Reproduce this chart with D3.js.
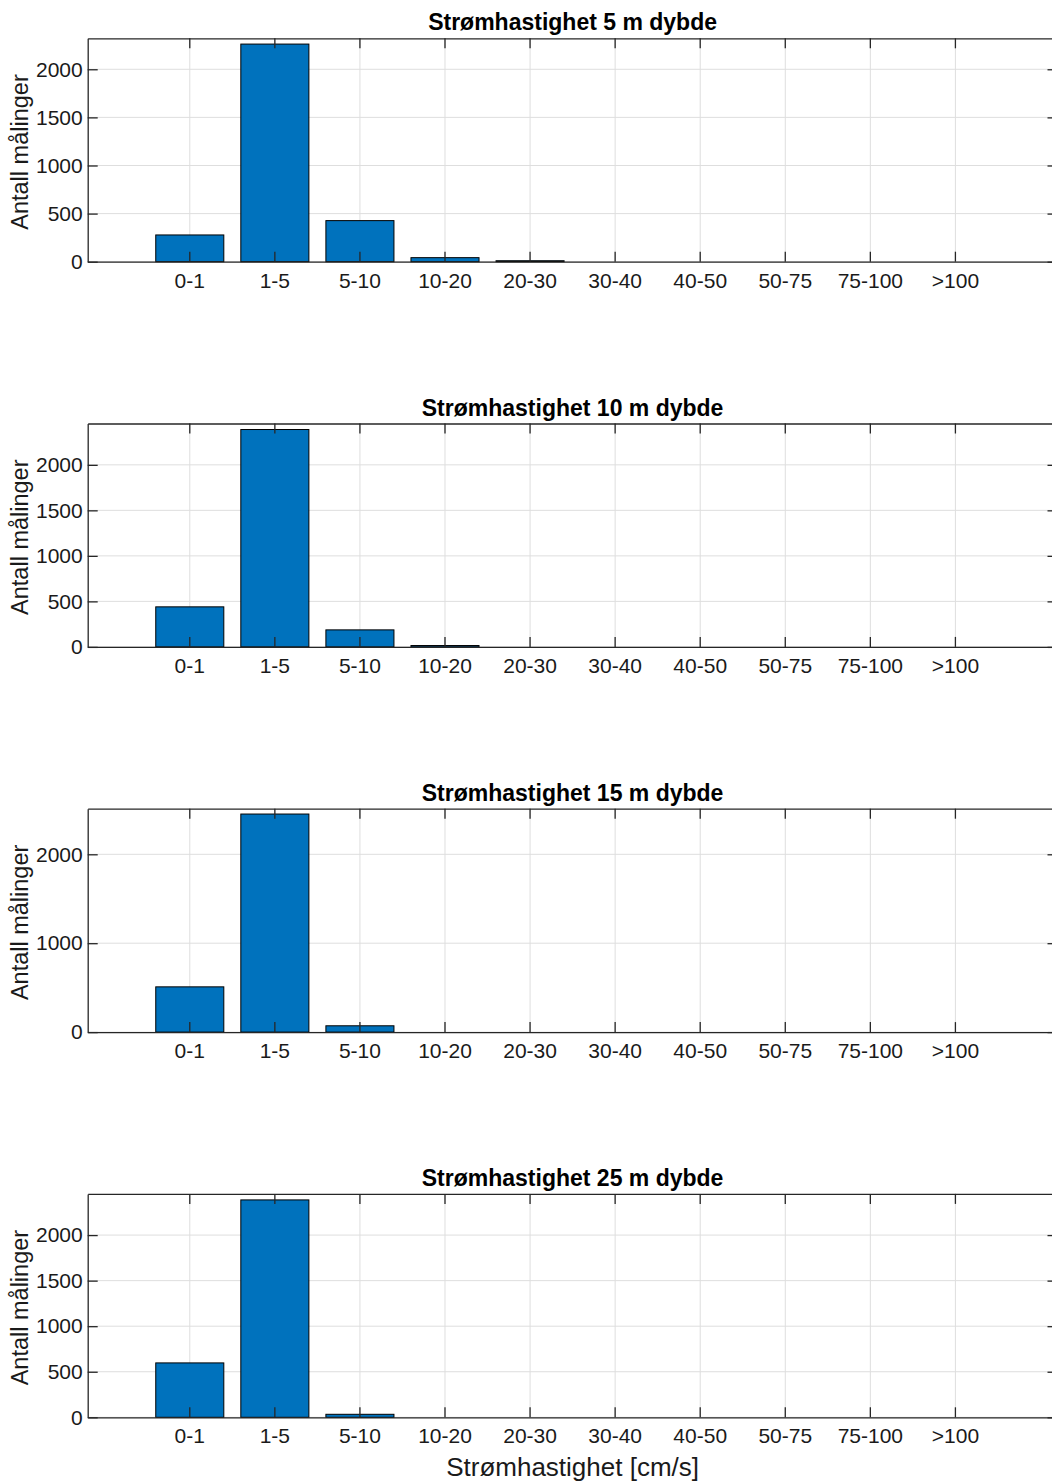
<!DOCTYPE html>
<html>
<head>
<meta charset="utf-8">
<script src="https://cdn.jsdelivr.net/npm/d3@7"></script>
<style>
  html, body { margin: 0; padding: 0; background: #fff; }
  svg { display: block; font-family: "Liberation Sans", Arial, sans-serif; }
</style>
</head>
<body>
<svg id="chart" width="1052" height="1484"></svg>
<script>
// ---- data ----
const categories = ["0-1", "1-5", "5-10", "10-20", "20-30", "30-40", "40-50", "50-75", "75-100", ">100"];
const titles = [
  "Strømhastighet 5 m dybde",
  "Strømhastighet 10 m dybde",
  "Strømhastighet 15 m dybde",
  "Strømhastighet 25 m dybde"
];
const depth5  = [278, 2262, 427, 42, 10, 0, 0, 0, 0, 0];
const depth10 = [440, 2388, 187, 15, 0, 0, 0, 0, 0, 0];
const depth15 = [509, 2453, 71, 0, 0, 0, 0, 0, 0, 0];
const depth25 = [597, 2386, 33, 0, 0, 0, 0, 0, 0, 0];
const seriesList = [depth5, depth10, depth15, depth25];
const yMaxList = [2322, 2454, 2513, 2452];
const yTickList = [
  [0, 500, 1000, 1500, 2000],
  [0, 500, 1000, 1500, 2000],
  [0, 1000, 2000],
  [0, 500, 1000, 1500, 2000]
];
const yLabel = "Antall målinger";
const xLabel = "Strømhastighet [cm/s]";

// ---- layout ----
const svg = d3.select("#chart");
const left = 87.7, right = 1057.5;
const panelTop0 = 38.3, panelStep = 385.2, panelH = 223.4;
const axisColor = "#262626", gridColor = "#dedede", barColor = "#0072BD";
const tickLen = 10;
const fontFam = "'Liberation Sans', Arial, sans-serif";

const x = d3.scaleBand()
  .domain(categories)
  .range([left, right])
  .paddingInner(0.2)
  .paddingOuter(0.8);

seriesList.forEach((values, i) => {
  const top = panelTop0 + i * panelStep;
  const bottom = top + panelH;
  const y = d3.scaleLinear().domain([0, yMaxList[i]]).range([bottom, top]);
  const yTicks = yTickList[i];
  const g = svg.append("g");

  // grid
  g.append("g").selectAll("line").data(categories).join("line")
    .attr("x1", d => x(d) + x.bandwidth() / 2).attr("x2", d => x(d) + x.bandwidth() / 2)
    .attr("y1", top).attr("y2", bottom)
    .attr("stroke", gridColor).attr("stroke-width", 1);
  g.append("g").selectAll("line").data(yTicks).join("line")
    .attr("x1", left).attr("x2", right)
    .attr("y1", d => y(d)).attr("y2", d => y(d))
    .attr("stroke", gridColor).attr("stroke-width", 1);

  // bars
  g.append("g").selectAll("rect").data(values).join("rect")
    .attr("x", (d, k) => x(categories[k]))
    .attr("width", x.bandwidth())
    .attr("y", d => y(d))
    .attr("height", d => y(0) - y(d))
    .attr("fill", barColor)
    .attr("stroke", "#000")
    .attr("stroke-width", 1);

  // axes
  const styleAxis = sel => {
    sel.attr("font-family", fontFam);
    sel.select(".domain").attr("stroke", axisColor).attr("stroke-width", 1.3);
    sel.selectAll(".tick line").attr("stroke", axisColor).attr("stroke-width", 1.3);
    sel.selectAll(".tick text").attr("fill", "#1a1a1a").attr("font-size", "21px");
  };

  const xb = g.append("g").attr("transform", `translate(0,${bottom})`)
    .call(d3.axisBottom(x).tickSizeInner(-tickLen).tickSizeOuter(0));
  styleAxis(xb);
  xb.selectAll(".tick text").attr("dy", "0.71em").attr("y", 11);

  const xt = g.append("g").attr("transform", `translate(0,${top})`)
    .call(d3.axisTop(x).tickSizeInner(-tickLen).tickSizeOuter(0).tickFormat(""));
  styleAxis(xt);

  const yl = g.append("g").attr("transform", `translate(${left},0)`)
    .call(d3.axisLeft(y).tickValues(yTicks).tickSizeInner(-tickLen).tickSizeOuter(0).tickPadding(5).tickFormat(d3.format("d")));
  styleAxis(yl);

  const yr = g.append("g").attr("transform", `translate(${right},0)`)
    .call(d3.axisRight(y).tickValues(yTicks).tickSizeInner(-tickLen).tickSizeOuter(0).tickFormat(""));
  styleAxis(yr);

  // title
  g.append("text")
    .attr("x", (left + right) / 2)
    .attr("y", top - 8)
    .attr("text-anchor", "middle")
    .attr("font-size", "23px")
    .attr("font-weight", "bold")
    .attr("fill", "#000")
    .text(titles[i]);

  // y label
  g.append("text")
    .attr("transform", `translate(28,${(top + bottom) / 2 + 2}) rotate(-90)`)
    .attr("text-anchor", "middle")
    .attr("font-size", "23.5px")
    .attr("fill", "#1a1a1a")
    .text(yLabel);
});

// x label (bottom panel only)
svg.append("text")
  .attr("x", (left + right) / 2)
  .attr("y", 1476)
  .attr("text-anchor", "middle")
  .attr("font-size", "26px")
  .attr("fill", "#1a1a1a")
  .text(xLabel);
</script>
</body>
</html>
